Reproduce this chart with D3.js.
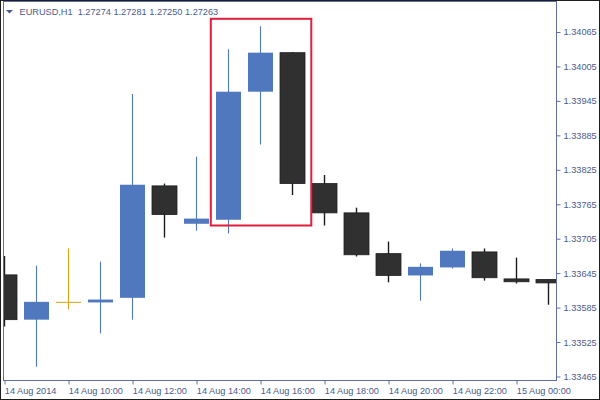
<!DOCTYPE html>
<html><head><meta charset="utf-8">
<script src="https://cdn.jsdelivr.net/npm/d3@7"></script>
<style>html,body{margin:0;padding:0;background:#fff;}svg{display:block;}</style>
</head><body>
<svg id="chart" width="600" height="400"></svg>
<script>
const title = "EURUSD,H1  1.27274 1.27281 1.27250 1.27263";
const times = ["14 Aug 08:00","14 Aug 09:00","14 Aug 10:00","14 Aug 11:00","14 Aug 12:00","14 Aug 13:00","14 Aug 14:00","14 Aug 15:00","14 Aug 16:00","14 Aug 17:00","14 Aug 18:00","14 Aug 19:00","14 Aug 20:00","14 Aug 21:00","14 Aug 22:00","14 Aug 23:00","15 Aug 00:00","15 Aug 01:00"];
const open  = [1.33642,1.33564,1.33595,1.33594,1.33602,1.33797,1.33731,1.33738,1.33961,1.34029,1.33801,1.33750,1.33679,1.33641,1.33655,1.33682,1.33635,1.33634];
const high  = [1.33675,1.33658,1.33688,1.33665,1.33957,1.33801,1.33848,1.34035,1.34075,1.34030,1.33816,1.33759,1.33700,1.33662,1.33688,1.33688,1.33672,1.33634];
const low   = [1.33552,1.33482,1.33582,1.33540,1.33564,1.33707,1.33719,1.33714,1.33869,1.33781,1.33728,1.33674,1.33629,1.33597,1.33653,1.33632,1.33627,1.33590];
const close = [1.33564,1.33595,1.33595,1.33599,1.33799,1.33747,1.33740,1.33961,1.34029,1.33801,1.33750,1.33677,1.33641,1.33656,1.33684,1.33637,1.33630,1.33628];
const xTickIndex = [0,2,4,6,8,10,12,14,16];
const xTickLabels = ["14 Aug 2014","14 Aug 10:00","14 Aug 12:00","14 Aug 14:00","14 Aug 16:00","14 Aug 18:00","14 Aug 20:00","14 Aug 22:00","15 Aug 00:00"];
const yTicks = [1.33465,1.33525,1.33585,1.33645,1.33705,1.33765,1.33825,1.33885,1.33945,1.34005,1.34065];
const highlightIndex = [7, 9];
const highlightPrice = [1.34088, 1.33728];

const candles = times.map((t,i)=>({t, i, o:open[i], h:high[i], l:low[i], c:close[i]}));

const svg = d3.select("#chart");
const W = 600, H = 400;
const plot = {left:3.5, right:556.5, top:1.5, bottom:380.5};
const textColor = "#4a5b8c", axisColor = "#5d70a0";
const font = "'Liberation Sans', Arial, sans-serif";

const x = d3.scaleLinear().domain([0, 17]).range([4.3, 548.3]);
const y = d3.scaleLinear().domain([1.33465, 1.34065]).range([376.5, 32]);
const bodyW = 25;

svg.append("defs").append("clipPath").attr("id","clip")
  .append("rect").attr("x",plot.left+0.5).attr("y",plot.top+0.5)
  .attr("width",plot.right-plot.left-1).attr("height",plot.bottom-plot.top-1);

// outer frame
svg.append("rect").attr("x",0.5).attr("y",0.5).attr("width",W-1).attr("height",H-1)
  .attr("fill","#fff").attr("stroke","#1e1e1e");

const g = svg.append("g").attr("clip-path","url(#clip)");

const colorOf = d => d.c > d.o ? "#5078be" : (d.c < d.o ? "#303030" : "#dca315");

// wicks
g.selectAll("line.wick").data(candles).join("line")
  .attr("class","wick")
  .attr("x1", d=>Math.round(x(d.i))+0.5).attr("x2", d=>Math.round(x(d.i))+0.5)
  .attr("y1", d=>y(d.h)).attr("y2", d=>y(d.l))
  .attr("stroke", d=> colorOf(d) === "#303030" ? "#1c1c1c" : colorOf(d))
  .attr("stroke-width", d=> colorOf(d) === "#303030" ? 1.4 : 1.1);

// bodies
g.selectAll("rect.body").data(candles).join("rect")
  .attr("class","body")
  .attr("x", d=>Math.round(x(d.i)) - 12)
  .attr("width", bodyW)
  .attr("y", d=>Math.min(y(d.o), y(d.c)))
  .attr("height", d=>Math.max(1, Math.abs(y(d.o)-y(d.c))))
  .attr("fill", colorOf)
  .attr("stroke", d=> colorOf(d) === "#303030" ? "#1e1e1e" : "none")
  .attr("stroke-width", 0.8);

// highlight rectangle
const hx0 = x(highlightIndex[0]) - 17.5, hx1 = x(highlightIndex[1]) + 19;
svg.append("rect")
  .attr("x", hx0).attr("y", y(highlightPrice[0]))
  .attr("width", hx1-hx0).attr("height", y(highlightPrice[1]) - y(highlightPrice[0]))
  .attr("fill","none").attr("stroke","#e01f3d").attr("stroke-width",2);

// plot border
svg.append("rect").attr("x",plot.left).attr("y",plot.top)
  .attr("width",plot.right-plot.left).attr("height",plot.bottom-plot.top)
  .attr("fill","none").attr("stroke",axisColor).attr("stroke-width",1);

// y axis
const yAxis = d3.axisRight(y).tickValues(yTicks).tickSize(4).tickPadding(3)
  .tickFormat(d3.format(".5f"));
const ya = svg.append("g").attr("transform",`translate(${plot.right},0)`).call(yAxis);
ya.select(".domain").remove();
ya.selectAll("line").attr("stroke",axisColor);
ya.selectAll("text").attr("fill",textColor).attr("font-family",font).attr("font-size","9.2px");

// x axis
const xAxis = d3.axisBottom(x).tickValues(xTickIndex).tickSize(4)
  .tickFormat((d,i)=>xTickLabels[i]);
const xa = svg.append("g").attr("transform",`translate(0,${plot.bottom})`).call(xAxis);
xa.select(".domain").remove();
xa.selectAll("line").attr("stroke",axisColor).attr("transform","translate(0.2,0)");
xa.selectAll("text").attr("fill",textColor).attr("font-family",font).attr("font-size","9.2px")
  .attr("text-anchor","start").attr("x",0).attr("dy","0").attr("y",13.5);

// title
svg.append("path").attr("d","M6,10 L13,10 L9.5,13.5 Z").attr("fill",textColor);
svg.append("text").attr("x",19.5).attr("y",15).attr("fill",textColor)
  .attr("font-family",font).attr("font-size","9.2px").attr("xml:space","preserve")
  .style("white-space","pre").text(title);
</script>
</body></html>
